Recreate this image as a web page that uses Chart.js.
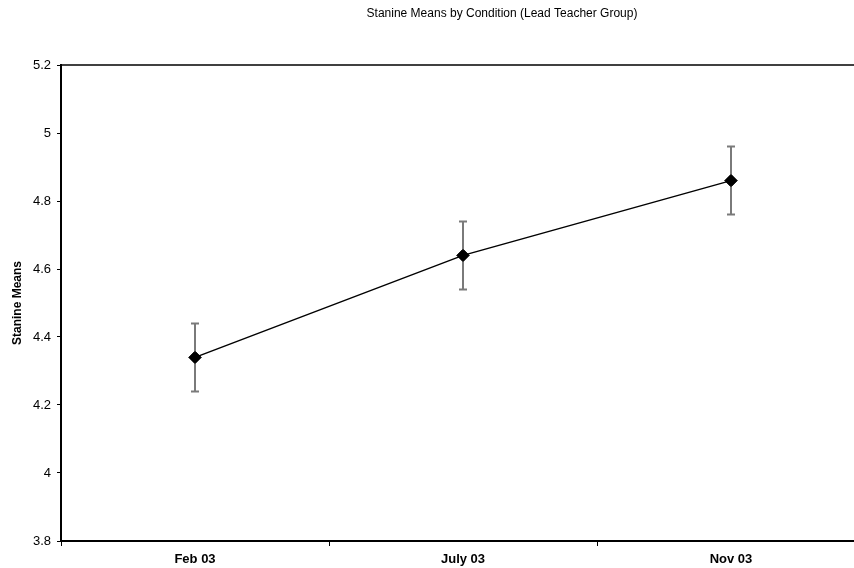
<!DOCTYPE html>
<html>
<head>
<meta charset="utf-8">
<script src="https://cdn.jsdelivr.net/npm/chart.js@4"></script>
<style>
  html, body { margin: 0; padding: 0; background: #fff; overflow: hidden; }
  #wrap { width: 880px; height: 568px; }
</style>
</head>
<body>
<div id="wrap"><canvas id="c" width="880" height="568"></canvas></div>
<script>
// Stanine means per testing round, with +/- error amounts
const conditions = ['Feb 03', 'July 03', 'Nov 03'];
const stanineMeans = [4.34, 4.64, 4.86];
const errorAmounts = [0.1, 0.1, 0.1];
const yTicks = [3.8, 4, 4.2, 4.4, 4.6, 4.8, 5, 5.2];

const chartTitle = 'Stanine Means by Condition (Lead Teacher Group)';
const yTitle = 'Stanine Means';
const FONT = 'Liberation Sans, Arial, sans-serif';

// Draws the plot frame's top edge, error bars and the title text
const decorations = {
  id: 'decorations',
  afterDatasetsDraw(chart) {
    const { ctx, chartArea, scales } = chart;
    ctx.save();
    // top edge of the plot frame
    ctx.strokeStyle = '#000';
    ctx.lineWidth = 1.5;
    ctx.beginPath();
    ctx.moveTo(chartArea.left, chartArea.top);
    ctx.lineTo(chartArea.right, chartArea.top);
    ctx.stroke();

    // error bars
    ctx.strokeStyle = '#7a7a7a';
    ctx.lineWidth = 2;
    stanineMeans.forEach((m, i) => {
      const x = scales.x.getPixelForValue(i);
      const yHi = scales.y.getPixelForValue(m + errorAmounts[i]);
      const yLo = scales.y.getPixelForValue(m - errorAmounts[i]);
      ctx.beginPath();
      ctx.moveTo(x, yHi); ctx.lineTo(x, yLo);
      ctx.moveTo(x - 4, yHi); ctx.lineTo(x + 4, yHi);
      ctx.moveTo(x - 4, yLo); ctx.lineTo(x + 4, yLo);
      ctx.stroke();
    });

    // chart title
    ctx.fillStyle = '#000';
    ctx.font = '12px ' + FONT;
    ctx.textAlign = 'center';
    ctx.textBaseline = 'middle';
    ctx.fillText(chartTitle, 502, 14);
    ctx.restore();
  }
};

// Redraw points on top of the error bars
const pointsOnTop = {
  id: 'pointsOnTop',
  afterDraw(chart) {
    const meta = chart.getDatasetMeta(0);
    const ctx = chart.ctx;
    ctx.save();
    meta.data.forEach(p => p.draw(ctx, chart.chartArea));
    ctx.restore();
  }
};

new Chart(document.getElementById('c'), {
  type: 'line',
  data: {
    labels: conditions,
    datasets: [{
      data: stanineMeans,
      borderColor: '#000',
      borderWidth: 1.5,
      pointStyle: 'rectRot',
      pointRadius: 6,
      pointBackgroundColor: '#000',
      pointBorderColor: '#000',
      pointBorderWidth: 1,
      tension: 0
    }]
  },
  options: {
    responsive: false,
    animation: false,
    events: [],
    layout: { padding: { top: 65, right: 15, bottom: 0, left: 0 } },
    plugins: {
      legend: { display: false },
      title: { display: false },
      tooltip: { enabled: false }
    },
    scales: {
      x: {
        offset: true,
        grid: {
          offset: true,
          drawOnChartArea: false,
          drawTicks: true,
          tickLength: 5,
          color: '#000',
          lineWidth: 1
        },
        border: { display: true, color: '#000', width: 2 },
        ticks: {
          color: '#000',
          font: { family: FONT, size: 13, weight: 'bold' },
          padding: 6,
          maxRotation: 0
        },
        afterFit(scale) { scale.height = 27; }
      },
      y: {
        min: 3.8,
        max: 5.2,
        afterBuildTicks(scale) {
          scale.ticks = yTicks.map(v => ({ value: v }));
        },
        grid: {
          drawOnChartArea: false,
          drawTicks: true,
          tickLength: 4,
          color: '#000',
          lineWidth: 1
        },
        border: { display: true, color: '#000', width: 2 },
        ticks: {
          color: '#000',
          font: { family: FONT, size: 13 },
          padding: 6,
          callback: v => String(+Number(v).toFixed(1))
        },
        title: {
          display: true,
          text: yTitle,
          color: '#000',
          font: { family: FONT, size: 12, weight: 'bold' },
          padding: { top: 10, bottom: 0 }
        },
        afterFit(scale) { scale.width = 61; }
      }
    }
  },
  plugins: [decorations, pointsOnTop]
});
</script>
</body>
</html>
